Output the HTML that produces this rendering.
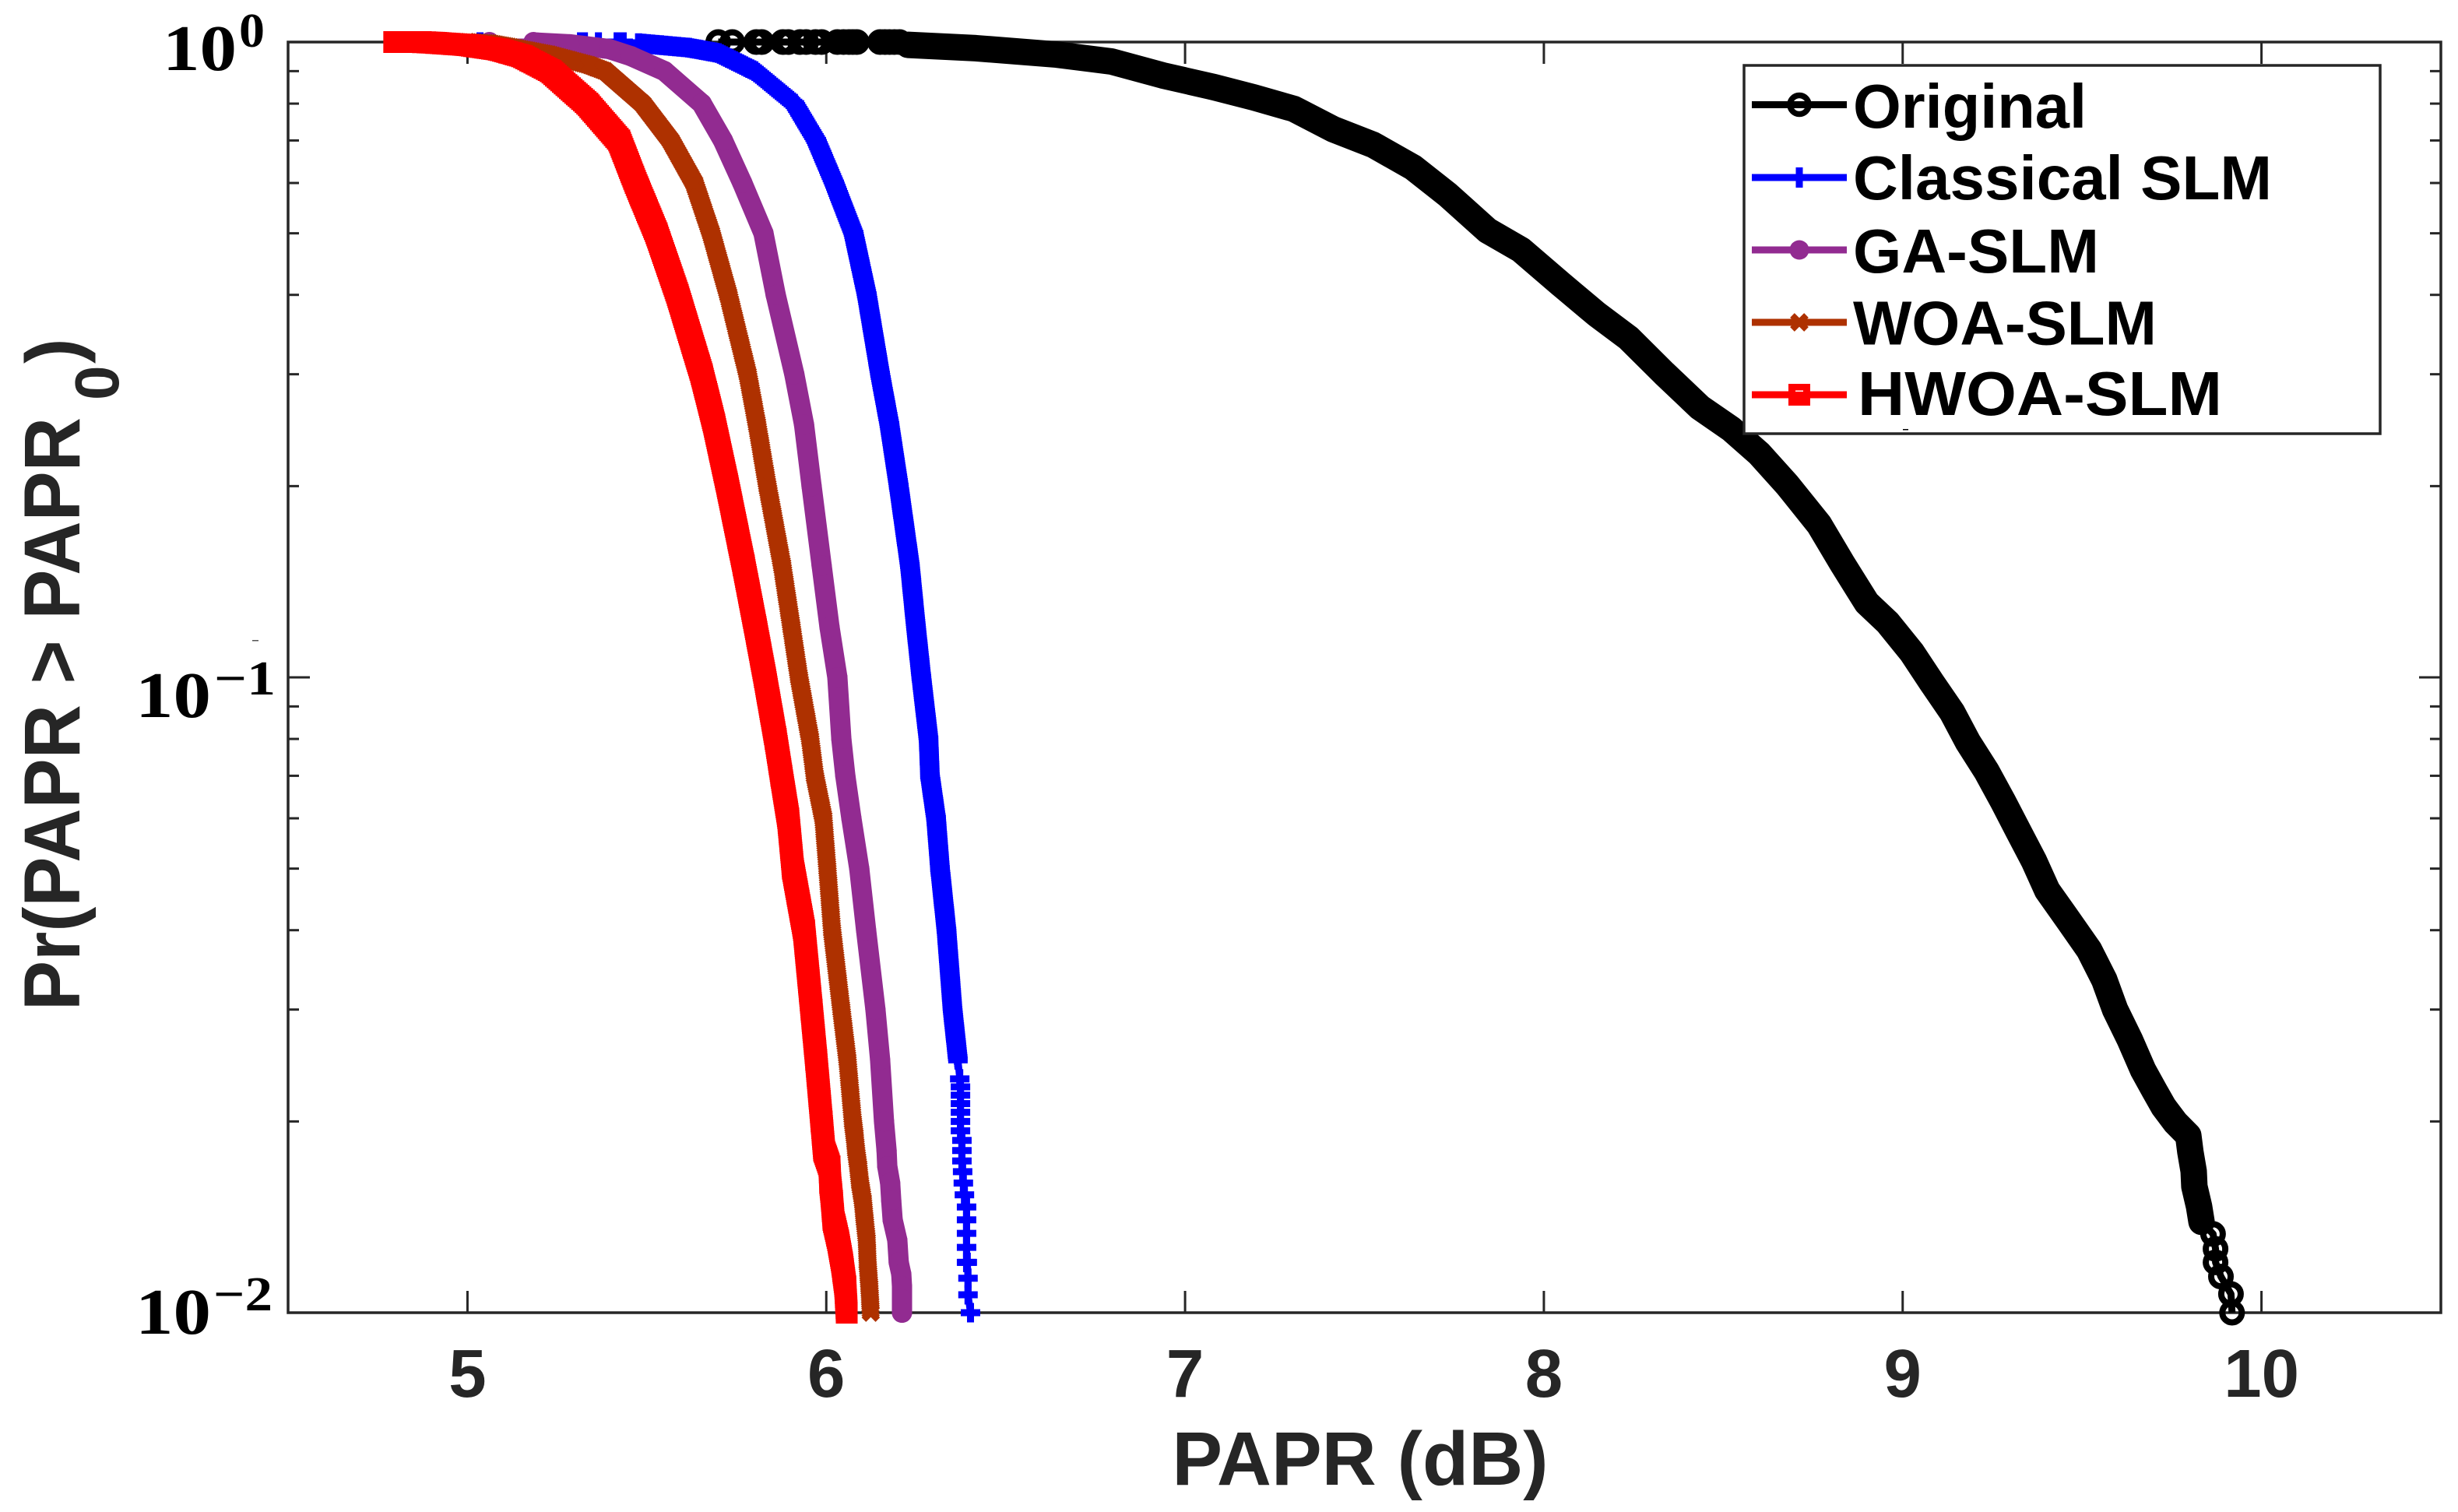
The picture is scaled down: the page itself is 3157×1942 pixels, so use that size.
<!DOCTYPE html>
<html lang="en">
<head>
<meta charset="utf-8">
<title>PAPR CCDF chart</title>
<style>
html,body{margin:0;padding:0;background:#fff;}
svg{display:block;}
text{font-family:"Liberation Sans",sans-serif;}
.serif{font-family:"Liberation Serif",serif;font-weight:bold;fill:#000;}
.sans{font-weight:bold;fill:#262626;}
.leg{font-weight:bold;fill:#000;font-size:80px;}
</style>
</head>
<body>
<svg id="chart" xmlns="http://www.w3.org/2000/svg" width="3157" height="1942" viewBox="0 0 3157 1942">
  <rect x="0" y="0" width="3157" height="1942" fill="#fff"/>
  <g id="ticks"></g>
  <rect x="370" y="54" width="2765" height="1632" fill="none" stroke="#262626" stroke-width="3.5"/>
  <g id="xlabels"></g>

  <g>
    <text class="serif" x="209" y="90" font-size="84" textLength="95" lengthAdjust="spacingAndGlyphs">10</text>
    <text class="serif" x="307" y="60" font-size="62" textLength="33" lengthAdjust="spacingAndGlyphs">0</text>
  </g>
  <g>
    <text class="serif" x="174" y="921" font-size="84" textLength="97" lengthAdjust="spacingAndGlyphs">10</text>
    <text class="serif" x="275" y="892" font-size="62" textLength="79" lengthAdjust="spacingAndGlyphs">−1</text>
  </g>
  <g>
    <text class="serif" x="174" y="1713" font-size="84" textLength="97" lengthAdjust="spacingAndGlyphs">10</text>
    <text class="serif" x="274" y="1683" font-size="62" textLength="76" lengthAdjust="spacingAndGlyphs">−2</text>
  </g>

  <text class="sans" x="1747" y="1907" font-size="97" text-anchor="middle">PAPR (dB)</text>
  <text class="sans" transform="translate(102,1298) rotate(-90)" font-size="102" textLength="762" lengthAdjust="spacingAndGlyphs">Pr(PAPR &gt; PAPR</text>
  <text class="sans" transform="translate(152,514) rotate(-90)" font-size="80">0</text>
  <text class="sans" transform="translate(102,467) rotate(-90)" font-size="98">)</text>

  <g id="series"></g>

  <g>
    <rect x="2240" y="84" width="817" height="473" fill="#fff" stroke="#262626" stroke-width="3.5"/>
    <g>
      <line x1="2250" x2="2372" y1="134.5" y2="134.5" stroke="#000" stroke-width="9"/>
      <circle cx="2311" cy="134.5" r="12" fill="none" stroke="#000" stroke-width="7.5"/>
      <text class="leg" x="2380" y="164" textLength="300" lengthAdjust="spacingAndGlyphs">Original</text>
    </g>
    <g>
      <line x1="2250" x2="2372" y1="228" y2="228" stroke="#0000ff" stroke-width="9"/>
      <line x1="2311" x2="2311" y1="215" y2="241" stroke="#0000ff" stroke-width="9"/>
      <text class="leg" x="2380" y="256" textLength="538" lengthAdjust="spacingAndGlyphs">Classical SLM</text>
    </g>
    <g>
      <line x1="2250" x2="2372" y1="321" y2="321" stroke="#922b91" stroke-width="9"/>
      <circle cx="2311" cy="321" r="12.5" fill="#922b91"/>
      <text class="leg" x="2380" y="350" textLength="316" lengthAdjust="spacingAndGlyphs">GA-SLM</text>
    </g>
    <g>
      <line x1="2250" x2="2372" y1="414" y2="414" stroke="#ae3100" stroke-width="9"/>
      <path d="M2302,405L2320,423M2302,423L2320,405" stroke="#ae3100" stroke-width="8" fill="none"/>
      <text class="leg" x="2380" y="442.5" textLength="390" lengthAdjust="spacingAndGlyphs">WOA-SLM</text>
    </g>
    <g>
      <line x1="2250" x2="2372" y1="507" y2="507" stroke="#ff0000" stroke-width="9"/>
      <rect x="2297" y="493" width="28" height="28" fill="#ff0000"/>
      <rect x="2306" y="501.5" width="10" height="1.5" fill="#fff"/>
      <text class="leg" x="2386" y="533" textLength="468" lengthAdjust="spacingAndGlyphs">HWOA-SLM</text>
    </g>
    <rect x="2444" y="551" width="7" height="1.5" fill="#000"/>
  </g>
  <rect x="324" y="822" width="8" height="1.5" fill="#555"/>
</svg>
<script>
// ---- Chart data ----
const xTickValues = [5, 6, 7, 8, 9, 10];
const yDecades = [1, 0.1, 0.01];
const yMinorFactors = [2, 3, 4, 5, 6, 7, 8, 9];

const originalPapr = [5.699,5.738,5.805,5.820,5.879,5.894,5.927,5.944,5.970,5.987,6.031,6.048,6.063,6.074,6.085,6.150,6.163,6.176,6.190,6.204,6.228,6.417,6.638,6.795,6.938,7.081,7.192,7.303,7.413,7.524,7.635,7.732,7.843,7.936,8.047,8.147,8.236,8.335,8.435,8.522,8.600,8.678,8.767,8.832,8.900,8.958,9.026,9.082,9.138,9.182,9.234,9.280,9.323,9.366,9.403,9.464,9.520,9.562,9.592,9.633,9.670,9.703,9.727,9.761,9.796,9.802,9.811,9.813,9.826,9.833,9.865,9.872,9.872,9.887,9.915,9.918];
const originalProb = [1,1,1,1,1,1,1,1,1,1,1,1,1,1,1,1,1,1,1,1,0.990,0.978,0.956,0.932,0.886,0.849,0.818,0.785,0.729,0.689,0.635,0.575,0.505,0.471,0.416,0.373,0.342,0.301,0.266,0.246,0.225,0.201,0.174,0.151,0.131,0.122,0.1094,0.098,0.0881,0.0791,0.0711,0.0637,0.0572,0.0514,0.0462,0.0413,0.0372,0.0334,0.030,0.0269,0.0241,0.0223,0.0211,0.0199,0.019,0.0179,0.0167,0.0158,0.0147,0.0139,0.0133,0.0126,0.012,0.0114,0.0107,0.010];

const classicalPapr = [5.035,5.315,5.326,5.365,5.417,5.434,5.477,5.538,5.616,5.699,5.801,5.911,5.972,6.022,6.076,6.113,6.150,6.176,6.202,6.233,6.250,6.265,6.285,6.289,6.306,6.317,6.335,6.352,6.367,6.372,6.374,6.374,6.374,6.374,6.374,6.374,6.378,6.378,6.378,6.380,6.382,6.385,6.391,6.391,6.391,6.391,6.391,6.393,6.395,6.395,6.402];
const classicalProb = [1,1,1,1,1,1,0.996,0.989,0.98,0.961,0.9,0.8,0.7,0.6,0.5,0.4,0.3,0.25,0.2,0.15,0.12,0.1,0.08,0.07,0.06,0.05,0.04,0.03,0.025,0.02333,0.02267,0.022,0.02133,0.02067,0.02,0.01933,0.01867,0.018,0.01733,0.01667,0.016,0.01533,0.01467,0.014,0.01333,0.01267,0.012,0.012,0.01133,0.01067,0.01];

const gaPapr = [5.061,5.184,5.195,5.284,5.395,5.456,5.549,5.653,5.712,5.766,5.825,5.859,5.911,5.938,5.959,5.987,6.009,6.031,6.042,6.053,6.070,6.092,6.111,6.137,6.150,6.161,6.168,6.170,6.178,6.181,6.185,6.198,6.202,6.209,6.211,6.211,6.211];
const gaProb = [1,1,0.998,0.992,0.975,0.95,0.9,0.8,0.7,0.6,0.5,0.4,0.3,0.25,0.2,0.15,0.12,0.1,0.08,0.07,0.06,0.05,0.04,0.03,0.025,0.02,0.018,0.017,0.016,0.015,0.014,0.013,0.012,0.0115,0.011,0.0105,0.01];

const woaPapr = [5.000,5.065,5.117,5.228,5.339,5.384,5.488,5.566,5.632,5.679,5.727,5.781,5.807,5.836,5.877,5.903,5.924,5.955,5.968,5.992,6.003,6.016,6.042,6.059,6.074,6.079,6.083,6.089,6.094,6.102,6.107,6.113,6.115,6.120,6.124];
const woaProb = [1,0.995,0.983,0.956,0.92,0.9,0.8,0.7,0.6,0.5,0.4,0.3,0.25,0.2,0.15,0.12,0.1,0.08,0.07,0.06,0.05,0.04,0.03,0.025,0.02,0.019,0.018,0.017,0.016,0.015,0.014,0.013,0.012,0.011,0.01];

const hwoaPapr = [4.796,4.826,4.870,4.913,5.000,5.087,5.152,5.232,5.334,5.423,5.469,5.527,5.586,5.653,5.688,5.725,5.770,5.803,5.829,5.859,5.875,5.894,5.907,5.938,5.959,5.972,5.987,5.994,6.009,6.011,6.016,6.020,6.033,6.044,6.053,6.057];
const hwoaProb = [1,1,1,0.997,0.989,0.973,0.95,0.9,0.8,0.7,0.6,0.5,0.4,0.3,0.25,0.2,0.15,0.12,0.1,0.08,0.07,0.06,0.05,0.04,0.03,0.025,0.02,0.018,0.017,0.016,0.015,0.014,0.013,0.012,0.011,0.01];

// ---- Axis functions ----
const NS = "http://www.w3.org/2000/svg";
const plotLeft = 370, plotRight = 3135, plotTop = 54, plotBottom = 1686;
const xMin = 4.5, xMax = 10.5, decadeMin = -2, decadeMax = 0;
function xScale(v) { return plotLeft + (v - xMin) / (xMax - xMin) * (plotRight - plotLeft); }
function yScale(p) { return plotTop + (decadeMax - Math.log10(p)) / (decadeMax - decadeMin) * (plotBottom - plotTop); }

function make(tag, attrs, parent) {
  const el = document.createElementNS(NS, tag);
  for (const k in attrs) el.setAttribute(k, attrs[k]);
  parent.appendChild(el);
  return el;
}

// ---- Ticks ----
const tickGroup = document.getElementById("ticks");
const xLabelGroup = document.getElementById("xlabels");
function tickLine(x1, y1, x2, y2, name) {
  const t = make("line", {x1: x1, y1: y1, x2: x2, y2: y2, stroke: "#262626", "stroke-width": 3}, tickGroup);
  
  
}
xTickValues.forEach(function (v) {
  const x = xScale(v);
  tickLine(x, plotBottom, x, plotBottom - 28, "x-tick-bottom");
  tickLine(x, plotTop, x, plotTop + 28, "x-tick-top");
  const label = make("text", {x: x, y: 1794, "text-anchor": "middle", "font-size": 87, "class": "sans"}, xLabelGroup);
  label.textContent = String(v);
  
  
});
yDecades.forEach(function (d) {
  const y = yScale(d);
  tickLine(plotLeft, y, plotLeft + 28, y, "y-major-tick-left");
  tickLine(plotRight, y, plotRight - 28, y, "y-major-tick-right");
});
[0.1, 0.01].forEach(function (d) {
  yMinorFactors.forEach(function (f) {
    const y = yScale(d * f);
    tickLine(plotLeft, y, plotLeft + 14, y, "y-minor-tick-left");
    tickLine(plotRight, y, plotRight - 14, y, "y-minor-tick-right");
  });
});

// ---- Series ----
const seriesGroup = document.getElementById("series");
function markerPath(kind, x, y) {
  if (kind === "plus") return "M" + (x - 12.5) + "," + y + "H" + (x + 12.5) + "M" + x + "," + (y - 12.5) + "V" + (y + 12.5);
  if (kind === "cross") return "M" + (x - 9) + "," + (y - 9) + "L" + (x + 9) + "," + (y + 9) + "M" + (x - 9) + "," + (y + 9) + "L" + (x + 9) + "," + (y - 9);
  return "M" + (x - 14) + "," + (y - 14) + "h28v28h-28z";
}
function drawMarker(group, kind, color, x, y) {
  let m;
  if (kind === "ring") {
    m = make("circle", {cx: x, cy: y, r: 12.5, fill: "none", stroke: color, "stroke-width": 8}, group);
  } else if (kind === "dot") {
    m = make("circle", {cx: x, cy: y, r: 13, fill: color}, group);
  } else if (kind === "square") {
    m = make("path", {d: markerPath(kind, x, y), fill: color}, group);
  } else {
    m = make("path", {d: markerPath(kind, x, y), fill: "none", stroke: color, "stroke-width": kind === "plus" ? 9 : 8}, group);
  }
  
  
}
// Closely packed samples merge into a solid band: sweep the marker shape between
// neighbouring plotted values (positions come only from the series through the scales).
function sweepPath(kind, pts) {
  let d = "";
  for (let i = 0; i + 1 < pts.length; i++) {
    const dx = pts[i + 1][0] - pts[i][0], dy = pts[i + 1][1] - pts[i][1];
    const steps = Math.max(1, Math.ceil(Math.hypot(dx, dy) / 3));
    for (let s = 0; s < steps; s++) {
      d += markerPath(kind, +(pts[i][0] + dx * s / steps).toFixed(1), +(pts[i][1] + dy * s / steps).toFixed(1));
    }
  }
  return d;
}
function drawSeries(name, papr, prob, color, kind, bandWidth, bandLow, bandHigh) {
  const group = make("g", {}, seriesGroup);
  
  
  const all = [], dense = [];
  for (let i = 0; i < papr.length; i++) {
    const pt = [xScale(papr[i]), yScale(prob[i])];
    all.push(pt[0].toFixed(1) + "," + pt[1].toFixed(1));
    if (prob[i] >= bandLow && prob[i] < bandHigh) dense.push(pt);
  }
  const thin = make("polyline", {points: all.join(" "), fill: "none", stroke: color, "stroke-width": 9, "stroke-linejoin": "round"}, group);
  
  
  let band;
  if (kind === "ring" || kind === "dot") {
    band = make("polyline", {points: dense.map(function (p) { return p[0].toFixed(1) + "," + p[1].toFixed(1); }).join(" "), fill: "none", stroke: color, "stroke-width": bandWidth, "stroke-linejoin": "round", "stroke-linecap": "round"}, group);
  } else if (kind === "square") {
    band = make("path", {d: sweepPath(kind, dense), fill: color}, group);
  } else {
    band = make("path", {d: sweepPath(kind, dense), fill: "none", stroke: color, "stroke-width": bandWidth}, group);
  }
  
  
  for (let i = 0; i < papr.length; i++) {
    drawMarker(group, kind, color, xScale(papr[i]), yScale(prob[i]));
  }
}
drawSeries("series-original", originalPapr, originalProb, "#000000", "ring", 34, 0.0139, 1);
drawSeries("series-classical-slm", classicalPapr, classicalProb, "#0000ff", "plus", 9, 0.0234, 1);
drawSeries("series-ga-slm", gaPapr, gaProb, "#922b91", "dot", 26, 0.01, 1);
drawSeries("series-woa-slm", woaPapr, woaProb, "#ae3100", "cross", 8, 0.01, 1.01);
drawSeries("series-hwoa-slm", hwoaPapr, hwoaProb, "#ff0000", "square", 28, 0.01, 1.01);
</script>
</body>
</html>
